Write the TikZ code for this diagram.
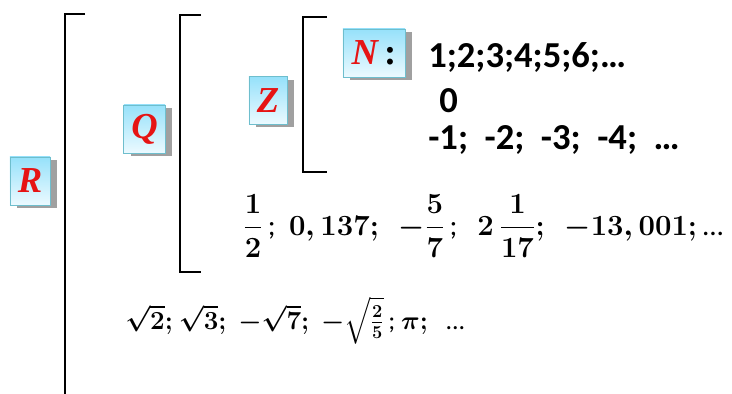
\documentclass[tikz,border=0pt]{standalone}
\usepackage{fix-cm}
\usepackage{amsmath,amssymb}
\usepackage{fontspec}
\setmainfont{Carlito}
\newfontfamily\letterfont{Liberation Serif}
\usepackage{tikz}
\usetikzlibrary{positioning,shadows}
\definecolor{setRed}{RGB}{230,20,20}
\definecolor{setTop}{RGB}{150,225,250}
\definecolor{setBottom}{RGB}{236,250,255}
\definecolor{setEdge}{RGB}{110,190,205}
\definecolor{setShadow}{RGB}{160,160,160}
\definecolor{setInk}{RGB}{0,0,0}
\tikzset{
  setbox/.style={draw=setEdge,line width=0.6pt,top color=setTop,bottom color=setBottom,
    inner sep=0pt,text=setRed,font=\letterfont\bfseries\itshape\fontsize{26}{28}\selectfont,
    drop shadow={shadow xshift=0.17cm,shadow yshift=-0.07cm,fill=setShadow,opacity=1}},
  setbrace/.style={draw=setInk,line width=2.1pt},
  setlist/.style={font=\bfseries\fontsize{26}{28}\selectfont,text=setInk,anchor=base west,inner sep=0pt},
  setmath/.style={font=\boldmath\fontsize{20.8}{24}\selectfont,text=setInk,anchor=base west,inner sep=0pt},
}

\begin{document}
\begin{tikzpicture}[x=0.025cm,y=-0.025cm]
% Canvas in pixel units of the reference: 732 x 394.
\useasboundingbox (0,0) rectangle (732,394);

% Brackets for the nested number sets.
\draw[setbrace] (85,14) -- (65,14) -- (65,394);
\draw[setbrace] (201,15) -- (180,15) -- (180,272) -- (201,272);
\draw[setbrace] (327,17) -- (303,17) -- (303,172) -- (327,172);

% Set labels.
\node[setbox,minimum width=1.0cm,minimum height=1.2cm] (setR) at (30,181) {R};
\node[setbox,minimum width=1.03cm,minimum height=1.2cm] (setQ) at (144.5,129) {Q};
\node[setbox,minimum width=0.95cm,minimum height=1.18cm] (setZ) at (268,100.5) {Z};
\node[setbox,minimum width=1.55cm,minimum height=1.2cm] (setN) at (374,53) {N\,\textcolor{setInk}{\upshape:}};

% Integers.
\node[setlist] (natural) at (428,68) {1;2;3;4;5;6;…};
\node[setlist] (zero) at (439,113) {0};
\node[setlist] (negative) at (428,150) {-1;\ \ -2;\ \ -3;\ \ -4;\ \ …};

% Rationals.
\node[setmath] (rational) at (243,235)
  {$\dfrac{1}{2}$\,;\ \ $0,137;$\ \ \ $-\dfrac{5}{7}$\,;\ \ \ $2\,\dfrac{1}{17};$\ \ \ $-13,001;$\,...};

% Irrationals.
\node[setmath,font=\boldmath\fontsize{18.5}{22}\selectfont] (irrational) at (125,329)
  {$\sqrt{2};$\ $\sqrt{3};$\ \ $-\sqrt{7};$\ \ $-\sqrt{\tfrac{2}{5}}$\,;\ $\pi;$\ \ \ ...};
\end{tikzpicture}
\end{document}
